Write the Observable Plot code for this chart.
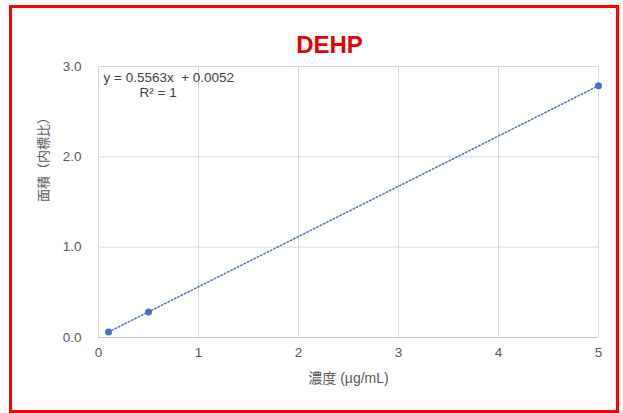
<!DOCTYPE html>
<html>
<head>
<meta charset="utf-8">
<script src="https://cdn.jsdelivr.net/npm/d3@7"></script>
<script src="https://cdn.jsdelivr.net/npm/@observablehq/plot@0.6"></script>
<style>
  html, body { margin: 0; padding: 0; background: #fff; }
  #wrap { position: relative; width: 623px; height: 413px; overflow: hidden; }
  #frame {
    position: absolute; left: 9px; top: 5px; width: 610px; height: 408px;
    border: 3px solid #ff0000; box-sizing: border-box; pointer-events: none;
  }
  svg { font-family: "Liberation Sans", Arial, "Noto Sans CJK JP", sans-serif; }
</style>
</head>
<body>
<div id="wrap"><div id="frame"></div></div>
<script>
// Calibration standards for DEHP
const concentration = [0.1, 0.5, 5];          // µg/mL
const areaRatio = [0.061, 0.283, 2.787];      // peak area / internal standard

// Fitted line as reported on the chart
const slope = 0.5563;
const intercept = 0.0052;
const rSquared = 1;

const xTicks = [0, 1, 2, 3, 4, 5];
const yTicks = [0, 1, 2, 3];

const title = "DEHP";
const xLabel = "濃度 (µg/mL)";
const yLabel = "面積（内標比）";

const points = concentration.map((c, i) => ({c, a: areaRatio[i]}));
const xEnds = [d3.min(concentration), d3.max(concentration)];
const fit = xEnds.map(c => ({c, a: slope * c + intercept}));

const axisColor = "#595959";
const blue = "#4472c4";

const chart = Plot.plot({
  width: 623,
  height: 413,
  marginLeft: 98,
  marginRight: 25,
  marginTop: 66,
  marginBottom: 76,
  style: {fontSize: "13px", color: axisColor, background: "transparent"},
  x: {domain: [0, 5], ticks: xTicks},
  y: {domain: [0, 3], ticks: yTicks},
  marks: [
    Plot.gridX(xTicks, {stroke: "#d9d9d9", strokeOpacity: 1}),
    Plot.gridY(yTicks, {stroke: "#d9d9d9", strokeOpacity: 1}),
    Plot.ruleY([0], {stroke: "#bfbfbf", strokeWidth: 1}),
    Plot.axisX(xTicks, {tickSize: 0, tickPadding: 10, label: null, fill: axisColor, fontSize: 13.5}),
    Plot.axisY(yTicks, {tickSize: 0, tickPadding: 17, label: null, tickFormat: d3.format(".1f"), fill: axisColor, fontSize: 13.5}),
    // dotted trendline from the reported fit
    Plot.line(fit, {x: "c", y: "a", stroke: "#4a70b8", strokeWidth: 1.5, strokeDasharray: "1.5,2.2"}),
    Plot.dot(points, {x: "c", y: "a", r: 3.5, fill: blue, stroke: null}),
    Plot.text([`y = ${slope}x \u00a0+ ${intercept}`], {
      frameAnchor: "top-left", dx: 5, dy: 11, textAnchor: "start", lineAnchor: "middle",
      fill: "#404040", fontSize: 13.5
    }),
    Plot.text([`R² = ${rSquared}`], {
      frameAnchor: "top-left", dx: 41, dy: 26, textAnchor: "start", lineAnchor: "middle",
      fill: "#404040", fontSize: 13.5
    }),
    Plot.text([title], {
      frameAnchor: "top", dx: -19, dy: -21, lineAnchor: "middle",
      fill: "#e60000", fontSize: 24, fontWeight: "bold"
    }),
    Plot.text([xLabel], {
      frameAnchor: "bottom", dy: 41, lineAnchor: "middle", fill: axisColor, fontSize: 14
    }),
    Plot.text([yLabel], {
      frameAnchor: "left", dx: -55, rotate: -90, lineAnchor: "middle", fill: axisColor, fontSize: 13
    })
  ]
});

document.getElementById("wrap").prepend(chart);
</script>
</body>
</html>
